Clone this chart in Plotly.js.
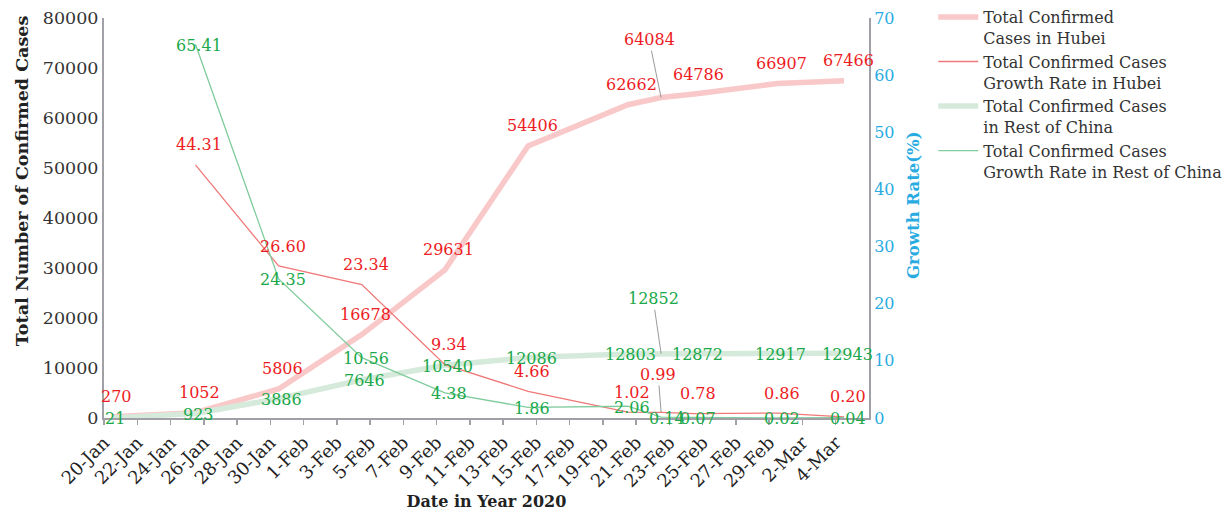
<!DOCTYPE html>
<html>
<head>
<meta charset="utf-8">
<script src="https://cdn.plot.ly/plotly-3.0.1.min.js"></script>
<style>
html,body{margin:0;padding:0;background:#fff;}
#chart{width:1227px;height:511px;}
</style>
</head>
<body>
<div id="chart"></div>
<script>
// ---- data ----
const dates = ['2020-01-20','2020-01-25','2020-01-30','2020-02-04','2020-02-09','2020-02-14','2020-02-20','2020-02-22','2020-02-24','2020-02-29','2020-03-04'];
const hubeiTotal = [270,1052,5806,16678,29631,54406,62662,64084,64786,66907,67466];
const hubeiGrowth = [null,44.31,26.60,23.34,9.34,4.66,1.02,0.99,0.78,0.86,0.20];
const restTotal = [21,923,3886,7646,10540,12086,12803,12852,12872,12917,12943];
const restGrowth = [null,65.41,24.35,10.56,4.38,1.86,2.06,0.14,0.07,0.02,0.04];
const tickDates = ['2020-01-20','2020-01-22','2020-01-24','2020-01-26','2020-01-28','2020-01-30','2020-02-01','2020-02-03','2020-02-05','2020-02-07','2020-02-09','2020-02-11','2020-02-13','2020-02-15','2020-02-17','2020-02-19','2020-02-21','2020-02-23','2020-02-25','2020-02-27','2020-02-29','2020-03-02','2020-03-04'];
const tickLabels = ['20-Jan','22-Jan','24-Jan','26-Jan','28-Jan','30-Jan','1-Feb','3-Feb','5-Feb','7-Feb','9-Feb','11-Feb','13-Feb','15-Feb','17-Feb','19-Feb','21-Feb','23-Feb','25-Feb','27-Feb','29-Feb','2-Mar','4-Mar'];
const seriesNames = ['Total Confirmed<br>Cases in Hubei','Total Confirmed Cases<br>Growth Rate in Hubei','Total Confirmed Cases<br>in Rest of China','Total Confirmed Cases<br>Growth Rate in Rest of China'];
const xTitle = 'Date in Year 2020';
const yTitle = 'Total Number of Confirmed Cases';
const y2Title = 'Growth Rate(%)';

// ---- style ----
const FONT = 'DejaVu Serif';
const RED = '#ed1c24', GREEN = '#1aa84a', BLUE = '#29abe2', AXIS = '#a0a0a6';
// points sit in the middle of each day (date axis with day base unit)
const xs = dates.map(d => d + ' 12:00');

const traces = [
  {x: xs, y: hubeiTotal, name: seriesNames[0], mode: 'lines', yaxis: 'y', legendrank: 1,
   line: {color: '#f9c8c8', width: 5.5}},
  {x: xs, y: restTotal, name: seriesNames[2], mode: 'lines', yaxis: 'y', legendrank: 3,
   line: {color: '#d6eadb', width: 5.5}},
  {x: xs, y: hubeiGrowth, name: seriesNames[1], mode: 'lines', yaxis: 'y2', legendrank: 2,
   line: {color: '#f07878', width: 1.3}},
  {x: xs, y: restGrowth, name: seriesNames[3], mode: 'lines', yaxis: 'y2', legendrank: 4,
   line: {color: '#80cc9c', width: 1.3}}
];

// label placement styles
const leader = {
  hubeiTotal: {7: [-12, -58]},
  restTotal: {7: [-8, -55]},
  hubeiGrowth: {7: [-3, -38]},
  restGrowth: {}
};
function makeLabels(vals, key, yref, color, dx, dy, fmt, extraShift) {
  const out = [];
  vals.forEach((v, i) => {
    if (v === null) return;
    const a = {x: xs[i], y: v, xref: 'x', yref: yref, text: fmt(v),
      font: {family: FONT, size: 16, color: color}};
    if (leader[key][i]) {
      Object.assign(a, {showarrow: true, ax: leader[key][i][0], ay: leader[key][i][1],
        arrowhead: 0, arrowwidth: 1, arrowcolor: '#9a9a9a', standoff: 0, startstandoff: 0});
    } else {
      const ex = (extraShift && extraShift[i]) || 0;
      Object.assign(a, {showarrow: false, xshift: dx + ex, yshift: dy});
    }
    out.push(a);
  });
  return out;
}
const intFmt = v => String(v);
const pctFmt = v => v.toFixed(2);
const annotations = [].concat(
  makeLabels(hubeiTotal, 'hubeiTotal', 'y', RED, 4, 20, intFmt),
  makeLabels(restTotal, 'restTotal', 'y', GREEN, 3, -1, intFmt),
  makeLabels(hubeiGrowth, 'hubeiGrowth', 'y2', RED, 4, 20, pctFmt),
  makeLabels(restGrowth, 'restGrowth', 'y2', GREEN, 4, -1, pctFmt, {7: 2})
);
// y-axis titles (placed as in the reference, slightly above centre)
annotations.push({text: '<b>' + yTitle + '</b>', xref: 'paper', yref: 'paper', x: -0.107, y: 0.5925,
  xanchor: 'center', yanchor: 'middle', textangle: -90, showarrow: false,
  font: {family: FONT, size: 17.5, color: '#222'}});
annotations.push({text: '<b>' + y2Title + '</b>', xref: 'paper', yref: 'paper', x: 1.0575, y: 0.5325,
  xanchor: 'center', yanchor: 'middle', textangle: -90, showarrow: false,
  font: {family: FONT, size: 16.5, color: BLUE}});

const layout = {
  width: 1227, height: 511,
  margin: {l: 104, r: 358, t: 18, b: 93, autoexpand: false},
  paper_bgcolor: '#fff', plot_bgcolor: '#fff',
  font: {family: FONT, size: 16, color: '#333'},
  showlegend: true,
  legend: {x: 1.084, y: 1.045, xanchor: 'left', yanchor: 'top', itemwidth: 40,
    font: {family: FONT, size: 16, color: '#333'}, valign: 'top',
    tracegroupgap: 0, bgcolor: 'rgba(0,0,0,0)'},
  xaxis: {
    type: 'date', range: ['2020-01-20', '2020-03-06'],
    tickmode: 'array', tickvals: tickDates, ticktext: tickLabels,
    tickangle: -45, tickfont: {family: FONT, size: 18, color: '#222'},
    ticks: 'outside', ticklen: 5, tickcolor: AXIS, tickwidth: 1.5,
    showline: true, linecolor: AXIS, linewidth: 2,
    showgrid: false, zeroline: false,
    title: {text: '<b>' + xTitle + '</b>', font: {family: FONT, size: 16, color: '#222'}, standoff: 12}
  },
  yaxis: {
    range: [0, 80000], dtick: 10000, tickformat: 'd',
    tickfont: {family: FONT, size: 17.5, color: '#333'},
    showline: true, linecolor: AXIS, linewidth: 2,
    showgrid: false, zeroline: false, ticks: ''
  },
  yaxis2: {
    overlaying: 'y', side: 'right', range: [0, 70], dtick: 10,
    tickfont: {family: FONT, size: 16, color: BLUE},
    showline: true, linecolor: AXIS, linewidth: 2,
    showgrid: false, zeroline: false, ticks: ''
  },
  annotations: annotations
};

Plotly.newPlot('chart', traces, layout, {displayModeBar: false, staticPlot: true});
</script>
</body>
</html>
